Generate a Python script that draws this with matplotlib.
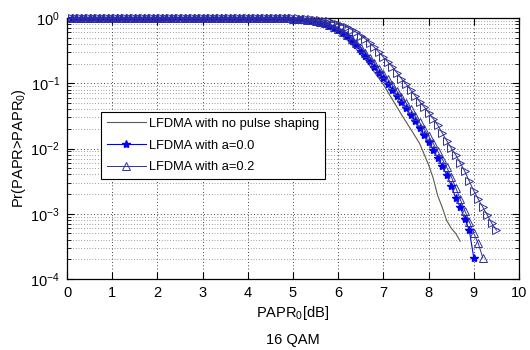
import numpy as np
import matplotlib
matplotlib.use('Agg')
import matplotlib.pyplot as plt
from matplotlib.ticker import LogLocator, NullFormatter, FixedLocator

plt.rcParams['font.family'] = ['Liberation Sans', 'DejaVu Sans']
plt.rcParams['mathtext.fontset'] = 'custom'
plt.rcParams['mathtext.rm'] = 'Liberation Sans'
plt.rcParams['mathtext.it'] = 'Liberation Sans'

# ---- data ----
# LFDMA without pulse shaping (plain grey line)
x_none = [0.1, 1.0, 2.0, 3.0, 4.0, 4.8, 5.0, 5.2, 5.4, 5.6, 5.8, 6.0, 6.2, 6.4, 6.6, 6.8,
          7.0, 7.2, 7.4, 7.6, 7.8, 8.0, 8.1, 8.2, 8.3, 8.4, 8.5, 8.6, 8.7]
p_none = [1.0, 1.0, 1.0, 1.0, 1.0, 1.0, 0.977, 0.955, 0.891, 0.813, 0.708, 0.589, 0.457,
          0.331, 0.229, 0.148, 0.0955, 0.0562, 0.0331, 0.0200, 0.0120, 0.00562, 0.00355,
          0.00191, 0.00126, 0.00079, 0.0006, 0.0005, 0.00038]

# a = 0.0 (stars), sampled every 0.1 dB from 0.1 dB
p_a00 = [1.0, 1.0, 1.0, 1.0, 1.0, 1.0, 1.0, 1.0, 1.0, 1.0,
         1.0, 1.0, 1.0, 1.0, 1.0, 1.0, 1.0, 1.0, 1.0, 1.0,
         1.0, 1.0, 1.0, 1.0, 1.0, 1.0, 1.0, 1.0, 1.0, 1.0,
         1.0, 1.0, 1.0, 1.0, 1.0, 1.0, 1.0, 1.0, 1.0, 1.0,
         1.0, 1.0, 1.0, 1.0, 1.0, 1.0, 1.0, 1.0, 0.995,
         0.977, 0.966, 0.955, 0.933, 0.912, 0.881, 0.851, 0.804, 0.759, 0.700,
         0.646, 0.582, 0.525, 0.447, 0.380, 0.316, 0.263, 0.216, 0.178, 0.146,
         0.120, 0.0977, 0.0794, 0.0646, 0.0525, 0.0417, 0.0331, 0.0263, 0.0209, 0.0162,
         0.0126, 0.00955, 0.00724, 0.00537, 0.00398, 0.00269, 0.00174, 0.00126, 0.00083, 0.00056,
         0.00021]

# a = 0.2 (triangles)
p_a02 = [1.0, 1.0, 1.0, 1.0, 1.0, 1.0, 1.0, 1.0, 1.0, 1.0,
         1.0, 1.0, 1.0, 1.0, 1.0, 1.0, 1.0, 1.0, 1.0, 1.0,
         1.0, 1.0, 1.0, 1.0, 1.0, 1.0, 1.0, 1.0, 1.0, 1.0,
         1.0, 1.0, 1.0, 1.0, 1.0, 1.0, 1.0, 1.0, 1.0, 1.0,
         1.0, 1.0, 1.0, 1.0, 1.0, 1.0, 1.0, 1.0, 0.996,
         0.982, 0.973, 0.959, 0.942, 0.923, 0.895, 0.867, 0.826, 0.785, 0.733,
         0.676, 0.617, 0.556, 0.484, 0.417, 0.351, 0.295, 0.245, 0.204, 0.168,
         0.138, 0.115, 0.0933, 0.0759, 0.0617, 0.0501, 0.0398, 0.0316, 0.0251, 0.0200,
         0.0155, 0.0120, 0.00912, 0.00692, 0.00513, 0.00372, 0.00251, 0.00166, 0.00112, 0.00076,
         0.0005, 0.00035, 0.00021]

# extra triangle curve further right (no legend entry)
p_extra = [1.0, 1.0, 1.0, 1.0, 1.0, 1.0, 1.0, 1.0, 1.0, 1.0,
           1.0, 1.0, 1.0, 1.0, 1.0, 1.0, 1.0, 1.0, 1.0, 1.0,
           1.0, 1.0, 1.0, 1.0, 1.0, 1.0, 1.0, 1.0, 1.0, 1.0,
           1.0, 1.0, 1.0, 1.0, 1.0, 1.0, 1.0, 1.0, 1.0, 1.0,
           1.0, 1.0, 1.0, 1.0, 1.0, 1.0, 1.0, 1.0, 0.997,
           0.989, 0.984, 0.977, 0.966, 0.955, 0.944, 0.933, 0.912, 0.891, 0.851,
           0.813, 0.767, 0.724, 0.661, 0.603, 0.537, 0.479, 0.412, 0.355, 0.299,
           0.251, 0.211, 0.178, 0.145, 0.117, 0.0977, 0.0794, 0.0646, 0.0525, 0.0437,
           0.0355, 0.0288, 0.0229, 0.0174, 0.0132, 0.0102, 0.00794, 0.00603, 0.00447, 0.00316,
           0.00224, 0.00166, 0.00126, 0.00095, 0.00071, 0.00056]

x_a00 = np.round(0.1 * np.arange(1, len(p_a00) + 1), 1)
x_a02 = np.round(0.1 * np.arange(1, len(p_a02) + 1), 1)
x_extra = np.round(0.1 * np.arange(1, len(p_extra) + 1), 1)

fig = plt.figure(figsize=(5.3, 3.5), dpi=100)
ax = fig.add_axes([67/530, 1 - 279/350, 452/530, 261/350])

ax.plot(x_none, p_none, '-', color='#5a5a4e', lw=0.8, label='LFDMA with no pulse shaping', zorder=3)
ax.plot(x_a00, p_a00, '-', color='#0000ff', lw=0.8, marker='*', ms=6,
        mfc='#0000ff', mec='#0000ff', label='LFDMA with a=0.0', clip_on=False, zorder=4)
ax.plot(x_a02, p_a02, '-', color='#30309a', lw=0.7, marker='^', ms=6,
        mfc='none', mec='#30309a', mew=0.7, label='LFDMA with a=0.2', clip_on=False, zorder=4)
ax.plot(x_extra, p_extra, '-', color='#30309a', lw=0.7, marker='>', ms=6,
        mfc='none', mec='#30309a', mew=0.7, clip_on=False, zorder=4)

ax.set_yscale('log')
ax.set_xlim(0, 10)
ax.set_ylim(1e-4, 1)
ax.xaxis.set_major_locator(FixedLocator(range(0, 11)))
ax.yaxis.set_major_locator(LogLocator(base=10, numticks=10))
ax.yaxis.set_minor_locator(LogLocator(base=10, subs=np.arange(2, 10), numticks=10))
ax.yaxis.set_minor_formatter(NullFormatter())

ax.grid(True, which='major', linestyle=(0, (1, 3)), color='k', lw=0.6)
ax.grid(True, which='minor', axis='y', linestyle=(0, (1, 3)), color='#444444', lw=0.5)

ax.tick_params(which='both', direction='in', top=True, right=True, labelsize=10.5)
ax.tick_params(which='major', length=5, width=0.8, pad=5)
ax.tick_params(which='minor', length=3, width=0.6)
for s in ax.spines.values():
    s.set_linewidth(0.9)

ax.set_ylabel('Pr(PAPR>PAPR$_0$)', fontsize=10.5, labelpad=2)
ax.set_xlabel('PAPR$_0$[dB]', fontsize=10.5, labelpad=3)
fig.text(293/530, 1 - 340/350, '16 QAM', ha='center', va='center', fontsize=10.5)

leg = ax.legend(loc='upper left', bbox_to_anchor=(34/452, (279 - 112)/261),
                borderaxespad=0, frameon=True, fancybox=False, fontsize=9.3,
                handlelength=3.0, handletextpad=0.3, labelspacing=0.75,
                borderpad=0.45, edgecolor='k', framealpha=1)
leg.get_frame().set_linewidth(0.8)

fig.savefig('out.png', dpi=100)
